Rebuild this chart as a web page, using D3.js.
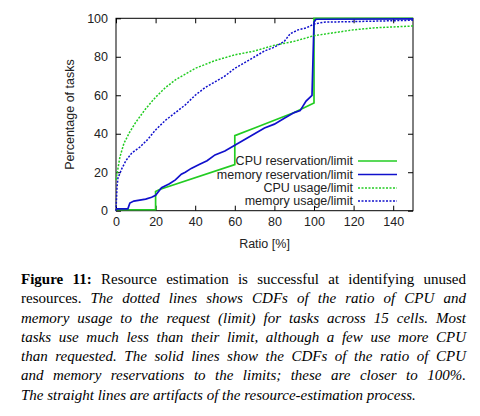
<!DOCTYPE html><html><head><meta charset="utf-8"><script src="https://cdn.jsdelivr.net/npm/d3@7"></script>
<style>body{margin:0;background:#fff}.cap{position:absolute;left:21px;top:270px;width:445px;font-family:"Liberation Serif",serif;font-size:15px;line-height:19.3px;color:#000}.cap div{text-align:justify;text-align-last:justify;white-space:nowrap}</style></head><body>
<svg id="c" width="480" height="260" style="position:absolute;left:0;top:0"></svg>
<div class="cap">
<div><b>Figure 11:</b> Resource estimation is successful at identifying unused</div>
<div>resources. <i>The dotted lines shows CDFs of the ratio of CPU and</i></div>
<div><i>memory usage to the request (limit) for tasks across 15 cells. Most</i></div>
<div><i>tasks use much less than their limit, although a few use more CPU</i></div>
<div><i>than requested. The solid lines show the CDFs of the ratio of CPU</i></div>
<div><i>and memory reservations to the limits; these are closer to 100%.</i></div>
<div style="text-align-last:left"><i>The straight lines are artifacts of the resource-estimation process.</i></div>
</div>
<script>
const xTicks=[0,20,40,60,80,100,120,140];
const yTicks=[0,20,40,60,80,100];
const cpuRes=[[0,0.5],[20,0.5],[20,10],[22,11],[60,24],[60,39],[70,43],[80,47],[90,51],[100,56],[100,100],[150,100]];
const memRes=[[0,1],[6,1],[7,4],[9,5],[15,6],[18,7],[20,8],[23,12],[27,14],[30,16],[33,19],[35,20],[38,22],[42,24],[46,26],[50,29],[55,31],[60,34],[65,37],[70,40],[75,43],[80,45],[85,48],[90,51],[93,52],[96,57],[99,60],[100,98],[101,99.5],[150,99.7]];
const cpuUse=[[0,16],[1,22],[2,28],[4,35],[7,41],[10,46],[15,53],[20,59],[25,64],[30,68],[35,71],[40,74],[50,78],[60,81],[70,83],[80,86],[90,88],[100,91],[110,92.5],[120,94],[130,95],[140,95.5],[150,96]];
const memUse=[[0,0],[0.5,12],[1,17],[3,22],[5,26],[8,30],[12,33],[16,37],[20,42],[25,47],[30,51],[35,55],[40,60],[45,64],[50,67],[55,70],[60,74],[65,77],[70,80],[75,83],[80,85],[85,88],[88,92],[92,94],[96,95],[100,97],[105,98],[130,98.5],[150,99]];
const series=[{n:"CPU reservation/limit",d:cpuRes,c:"#22cc22",dash:null},{n:"memory reservation/limit",d:memRes,c:"#1010cc",dash:null},{n:"CPU usage/limit",d:cpuUse,c:"#22cc22",dash:"2,1.5"},{n:"memory usage/limit",d:memUse,c:"#1010cc",dash:"2,1.5"}];
const svg=d3.select("#c"),L=116,R=413,T=18.3,B=210.7;
const x=d3.scaleLinear([0,150],[L,R]),y=d3.scaleLinear([0,100],[B,T]);
const f="font-family:'Liberation Sans',Arial,sans-serif;font-size:12.5px;fill:#222";
svg.append("rect").attr("x",L).attr("y",T).attr("width",R-L).attr("height",B-T).attr("fill","none").attr("stroke","#000");
const gx=svg.append("g").attr("transform",`translate(0,${B})`).call(d3.axisBottom(x).tickValues(xTicks).tickSize(-5).tickPadding(6));
const gx2=svg.append("g").attr("transform",`translate(0,${T})`).call(d3.axisTop(x).tickValues(xTicks).tickSize(-5).tickFormat(""));
const gy=svg.append("g").attr("transform",`translate(${L},0)`).call(d3.axisLeft(y).tickValues(yTicks).tickSize(-5).tickPadding(8));
const gy2=svg.append("g").attr("transform",`translate(${R},0)`).call(d3.axisRight(y).tickValues(yTicks).tickSize(-5).tickFormat(""));
[gx,gx2,gy,gy2].forEach(g=>{g.select(".domain").remove();g.selectAll("text").attr("style",f);});
svg.append("text").attr("x",(L+R)/2).attr("y",248).attr("text-anchor","middle").attr("style",f).text("Ratio [%]");
svg.append("text").attr("transform",`translate(74,${(T+B)/2}) rotate(-90)`).attr("text-anchor","middle").attr("style",f).text("Percentage of tasks");
const line=d3.line().x(d=>x(d[0])).y(d=>y(d[1]));
series.forEach(s=>svg.append("path").attr("d",line(s.d)).attr("fill","none").attr("stroke",s.c).attr("stroke-width",s.dash?1.5:1.7).attr("stroke-dasharray",s.dash));
const ly=[161,174.5,188,201];
series.forEach((s,i)=>{
 svg.append("text").attr("x",353).attr("y",ly[i]+4).attr("text-anchor","end").attr("style",f).text(s.n);
 svg.append("line").attr("x1",358).attr("x2",397).attr("y1",ly[i]).attr("y2",ly[i]).attr("stroke",s.c).attr("stroke-width",s.dash?1.5:1.7).attr("stroke-dasharray",s.dash);
});
</script></body></html>
